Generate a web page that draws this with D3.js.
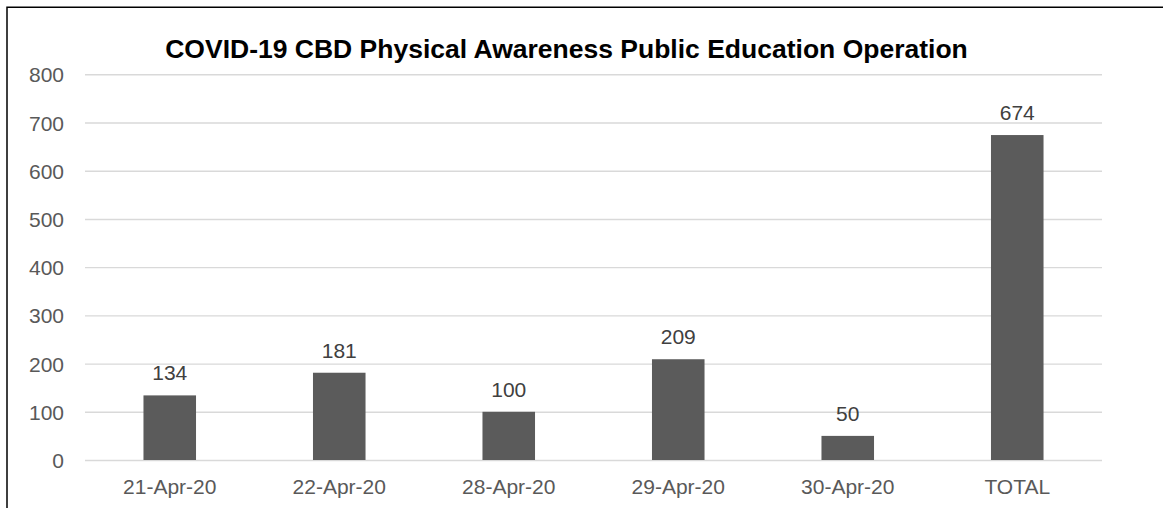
<!DOCTYPE html>
<html>
<head>
<meta charset="utf-8">
<script src="https://cdn.jsdelivr.net/npm/d3@7"></script>
<style>
  html, body { margin: 0; padding: 0; background: #fff; }
  svg { display: block; font-family: "Liberation Sans", Arial, sans-serif; }
</style>
</head>
<body>
<svg id="chart" width="1163" height="508"></svg>
<script>
const title = "COVID-19 CBD Physical Awareness Public Education Operation";
const categories = ["21-Apr-20", "22-Apr-20", "28-Apr-20", "29-Apr-20", "30-Apr-20", "TOTAL"];
const values = [134, 181, 100, 209, 50, 674];
const yTicks = [0, 100, 200, 300, 400, 500, 600, 700, 800];

(function () {
const svg = d3.select("#chart");
const W = 1163, H = 508;
const pLeft = 85, pRight = 1102, pTop = 74.3, pBottom = 460;

svg.append("rect").attr("width", W).attr("height", H).attr("fill", "#fff");

// border (left and top edges visible)
svg.append("path")
  .attr("d", `M7,${H} L7,7.3 L${W},7.3`)
  .attr("fill", "none").attr("stroke", "#000").attr("stroke-width", 1.5);

const x = d3.scaleBand().domain(categories).range([pLeft, pRight])
  .paddingInner(0.69).paddingOuter(0.345);
const y = d3.scaleLinear().domain([0, 800]).range([pBottom, pTop]);

// gridlines
const yAxis = d3.axisLeft(y).tickValues(yTicks).tickSize(-(pRight - pLeft)).tickPadding(21);
const gy = svg.append("g").attr("transform", `translate(${pLeft},0)`).call(yAxis);
gy.select(".domain").remove();
gy.selectAll(".tick line").attr("stroke", "#d9d9d9").attr("stroke-width", 1.4);
gy.selectAll(".tick text")
  .attr("fill", "#595959").attr("font-size", "21px")
  .attr("font-family", "'Liberation Sans', Arial, sans-serif")
  .attr("dy", "0.36em");

// bars
svg.append("g").selectAll("rect").data(values).join("rect")
  .attr("x", (d, i) => x(categories[i]))
  .attr("width", x.bandwidth())
  .attr("y", d => y(d))
  .attr("height", d => y(0) - y(d))
  .attr("fill", "#5b5b5b");

// data labels
svg.append("g").selectAll("text").data(values).join("text")
  .attr("x", (d, i) => x(categories[i]) + x.bandwidth() / 2)
  .attr("y", d => y(d) - 15)
  .attr("text-anchor", "middle")
  .attr("fill", "#404040").attr("font-size", "21px")
  .text(d => d);

// x axis
const xAxis = d3.axisBottom(x).tickSize(0).tickPadding(0);
const gx = svg.append("g").attr("transform", `translate(0,${pBottom})`).call(xAxis);
gx.select(".domain").remove();
gx.selectAll(".tick text")
  .attr("fill", "#595959").attr("font-size", "21px")
  .attr("font-family", "'Liberation Sans', Arial, sans-serif")
  .attr("y", 34).attr("dy", 0);

// title
svg.append("text")
  .attr("x", 566.5).attr("y", 58)
  .attr("text-anchor", "middle")
  .attr("font-size", "26.5px").attr("font-weight", "bold")
  .attr("fill", "#000")
  .text(title);
})();
</script>
</body>
</html>
